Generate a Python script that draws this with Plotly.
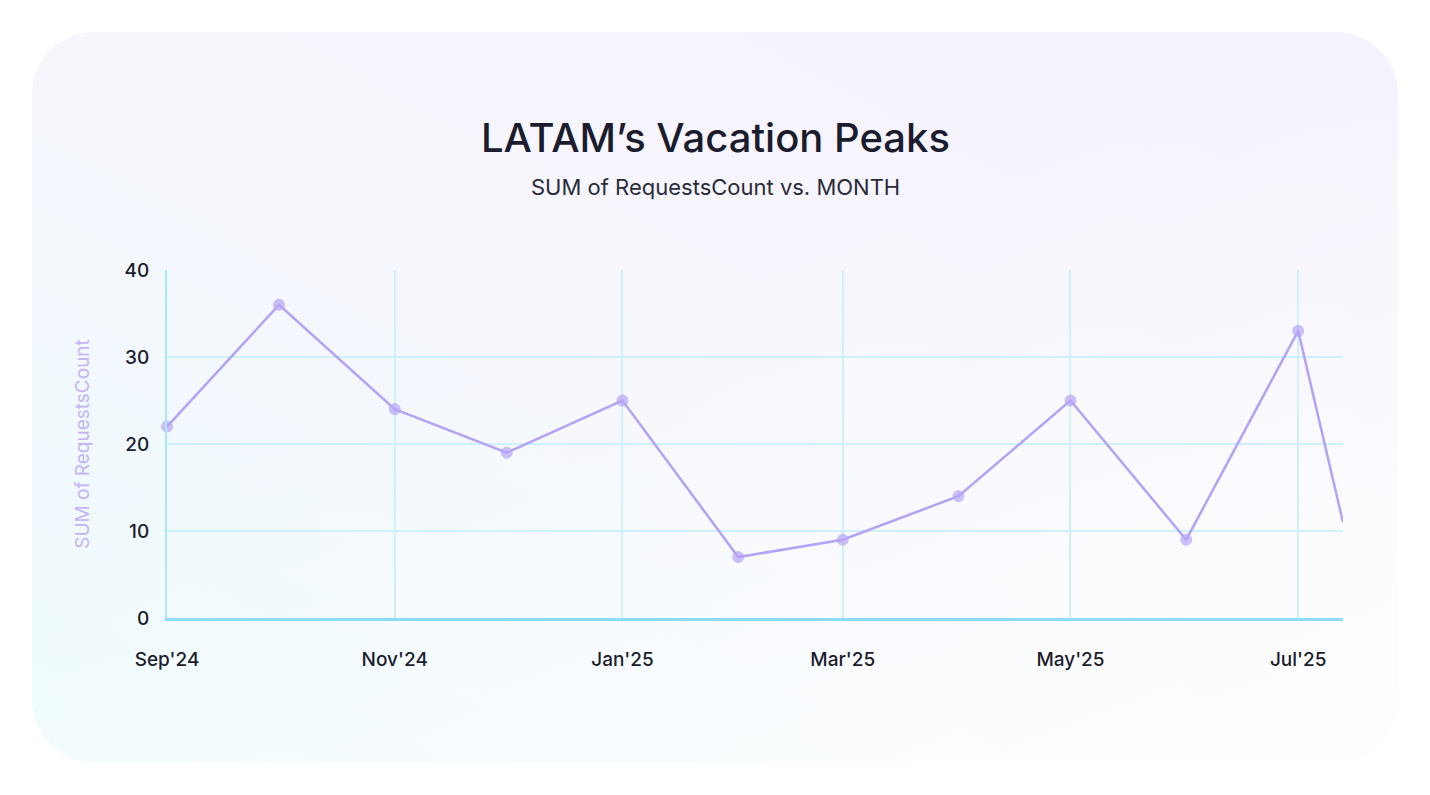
import base64

import plotly.graph_objects as go

months = [
    "2024-09-01", "2024-10-01", "2024-11-01", "2024-12-01", "2025-01-01", "2025-02-01",
    "2025-03-01", "2025-04-01", "2025-05-01", "2025-06-01", "2025-07-01", "2025-07-13",
]
requests = [22, 36, 24, 19, 25, 7, 9, 14, 25, 9, 33, 11]
marker_sizes = [11] * 11 + [0]

# page renders with an 8px offset, so shift everything back
OFF = 8
L, T, PW, PH = 167 - OFF, 270 - OFF, 1176, 348

# background card with soft gradient
svg = """<svg xmlns='http://www.w3.org/2000/svg' width='1430' height='795'>
<defs><linearGradient id='g' x1='0' y1='1' x2='1' y2='0'>
<stop offset='0' stop-color='#ecfbfd'/><stop offset='0.55' stop-color='#f7f6fd'/>
<stop offset='1' stop-color='#f5f1fd'/></linearGradient>
<linearGradient id='w' x1='0.5' y1='0.3' x2='1' y2='1'>
<stop offset='0' stop-color='#ffffff' stop-opacity='0'/><stop offset='1' stop-color='#ffffff' stop-opacity='0.9'/></linearGradient></defs>
<rect x='24' y='24' width='1366' height='730' rx='62' fill='url(#g)'/>
<rect x='24' y='24' width='1366' height='730' rx='62' fill='url(#w)'/>
</svg>"""
bg = "data:image/svg+xml;base64," + base64.b64encode(svg.encode()).decode()


def px(x, y):
    return (x - OFF - L) / PW, 1 + (T - (y - OFF)) / PH


fig = go.Figure()
fig.add_trace(
    go.Scatter(
        x=months,
        y=requests,
        mode="lines+markers",
        line=dict(color="#b4a2f6", width=2.5),
        marker=dict(color="#b9a6f7", size=marker_sizes),
        cliponaxis=False,
        showlegend=False,
    )
)

tx, ty = px(715, 137)
sx, sy = px(715, 187)
fig.update_layout(
    width=1430,
    height=795,
    paper_bgcolor="white",
    plot_bgcolor="rgba(0,0,0,0)",
    font=dict(family="Inter", color="#1b1d2e"),
    margin=dict(l=L, r=1430 - L - PW, t=T, b=795 - T - PH),
    images=[
        dict(source=bg, xref="paper", yref="paper", x=-L / PW, y=1 + T / PH,
             sizex=1430 / PW, sizey=795 / PH, sizing="stretch", layer="below",
             xanchor="left", yanchor="top")
    ],
    annotations=[
        dict(text="LATAM’s Vacation Peaks", x=tx, y=ty, xref="paper", yref="paper",
             xanchor="center", yanchor="middle", showarrow=False,
             font=dict(size=40, color="#1b1d2e", weight=500)),
        dict(text="SUM of RequestsCount vs. MONTH", x=sx, y=sy, xref="paper", yref="paper",
             xanchor="center", yanchor="middle", showarrow=False,
             font=dict(size=22, color="#2a2c3a")),
    ],
    xaxis=dict(
        type="date",
        range=["2024-09-01", "2025-07-13"],
        dtick="M2",
        tick0="2024-09-01",
        tickformat="%b'%y",
        showgrid=True,
        gridcolor="#cdf0fb",
        gridwidth=1.5,
        showline=True,
        linecolor="#8cdcf8",
        linewidth=3,
        zeroline=False,
        ticklabelstandoff=22,
        tickfont=dict(size=19, color="#1b1d2e", weight=500),
    ),
    yaxis=dict(
        range=[0, 40],
        dtick=10,
        showgrid=True,
        gridcolor="#cdf0fb",
        gridwidth=1.5,
        showline=True,
        linecolor="#a8e6fa",
        linewidth=2,
        zeroline=False,
        ticklabelstandoff=12,
        tickfont=dict(size=19, color="#1b1d2e", weight=500),
        title=dict(text="SUM of RequestsCount", font=dict(size=19, color="#c4b3f8"), standoff=30),
    ),
)

fig.write_html("out.html")
